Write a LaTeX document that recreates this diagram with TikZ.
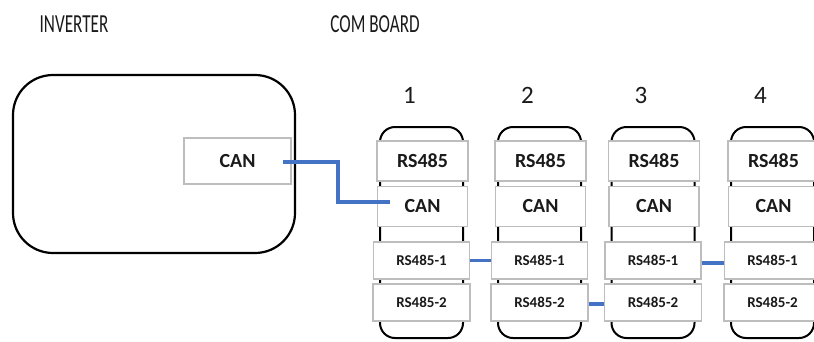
\documentclass[tikz,border=0pt]{standalone}
\usepackage{fontspec}
\setmainfont{Carlito}
\usetikzlibrary{calc}
\definecolor{wire}{HTML}{4472C4}
\definecolor{boxgray}{HTML}{BDBDBD}
\definecolor{txt}{HTML}{1A1A1A}
\tikzset{
  title/.style={text=txt, font=\fontsize{26}{28}\selectfont, inner sep=0pt},
  num/.style={text=txt, font=\fontsize{25}{28}\selectfont, inner sep=0pt},
  port/.style={draw=boxgray, line width=1.5pt, fill=white, text=txt, inner sep=0pt, font=\bfseries\fontsize{20}{22}\selectfont},
  smallport/.style={port, font=\bfseries\fontsize{15}{17}\selectfont},
  outline/.style={draw=black, line width=2pt},
  wireline/.style={draw=wire, line width=3.5pt},
}
\newcommand{\comboard}[3]{%
  \draw[outline, rounded corners=15pt] (#2-41.5,127) rectangle (#2+41.5,338);
  \node[num] (n#1) at (#2-12,95) {#3};
  \node[port, minimum width=91pt, minimum height=40pt] (b#1rs) at (#2+1,160.75) {RS485};
  \node[port, minimum width=90pt, minimum height=40pt] (b#1can) at (#2+1,206.5) {CAN};
  \node[smallport, minimum width=96pt, minimum height=37pt] (b#1ra) at (#2,260.5) {RS485-1};
  \node[smallport, minimum width=97pt, minimum height=37pt] (b#1rb) at (#2,302.5) {RS485-2};
}
\begin{document}
\begin{tikzpicture}[x=1pt,y=-1pt]
  \useasboundingbox (0,0) rectangle (814,341);
  \clip (0,0) rectangle (814,341);
  \node[title] (tinv) at (74,24) {\scalebox{0.66}[1]{INVERTER}};
  \node[title] (tcom) at (375,24) {\scalebox{0.66}[1]{COM BOARD}};
  \node[draw=black, line width=2.2pt, rounded corners=40pt, minimum width=282pt, minimum height=178pt, inner sep=0pt] (inv) at (154,164) {};
  \node[port, minimum width=107pt, minimum height=46pt] (invcan) at (237.5,161) {CAN};
  \comboard{1}{421.5}{1}
  \comboard{2}{539.5}{2}
  \comboard{3}{653}{3}
  \comboard{4}{772.5}{4}
  \coordinate (w1a) at ($(invcan.east)+(-9,1)$);
  \coordinate (w1b) at ($(b1can.west)+(13,-4.5)$);
  \draw[wireline] (w1a) -- ++(55,0) |- (w1b);
  \draw[wireline] (b1ra.east) -- (b2ra.west);
  \draw[wireline] ([yshift=-1.5pt]b2rb.east) -- ([yshift=-1.5pt]b3rb.west);
  \draw[wireline] ([yshift=-2.5pt]b3ra.east) -- ([yshift=-2.5pt]b4ra.west);
\end{tikzpicture}
\end{document}
